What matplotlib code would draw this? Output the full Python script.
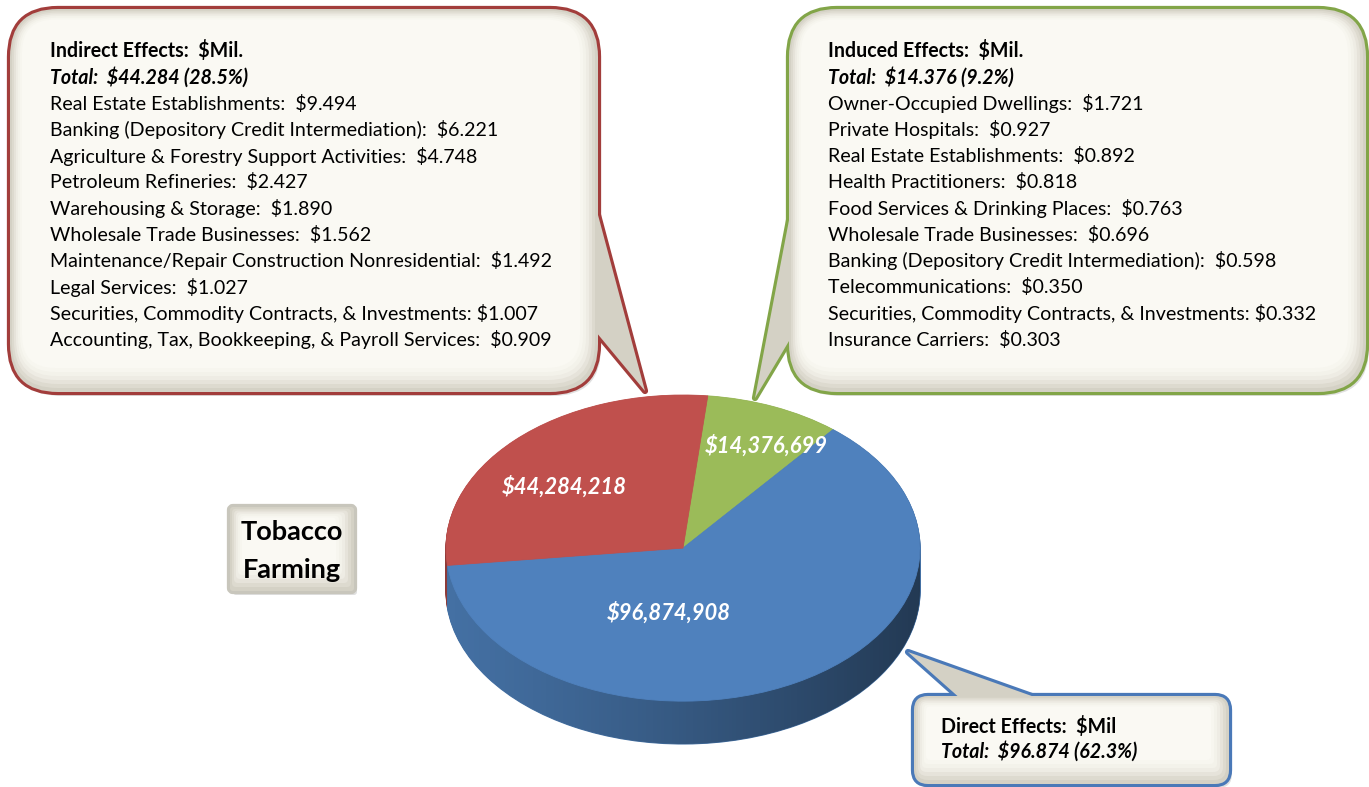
import numpy as np
import matplotlib.pyplot as plt
from matplotlib.patches import FancyBboxPatch, Polygon
from matplotlib.path import Path

plt.rcParams['font.family'] = ['Lato', 'DejaVu Sans']

# ---------------- datos ----------------
slice_names = ["Induced", "Direct", "Indirect"]
slice_values = [14376699, 96874908, 44284218]
slice_colors = ['#9bbb59', '#4f81bd', '#c0504d']
side_colors = ['#6f8a3c', '#4470a3', '#8e3a38']

indirect_items = ["Real Estate Establishments:", "Banking (Depository Credit Intermediation):",
                  "Agriculture & Forestry Support Activities:", "Petroleum Refineries:",
                  "Warehousing & Storage:", "Wholesale Trade Businesses:",
                  "Maintenance/Repair Construction Nonresidential:", "Legal Services:",
                  "Securities, Commodity Contracts, & Investments:",
                  "Accounting, Tax, Bookkeeping, & Payroll Services:"]
indirect_vals = [9.494, 6.221, 4.748, 2.427, 1.890, 1.562, 1.492, 1.027, 1.007, 0.909]

induced_items = ["Owner-Occupied Dwellings:", "Private Hospitals:", "Real Estate Establishments:",
                 "Health Practitioners:", "Food Services & Drinking Places:",
                 "Wholesale Trade Businesses:", "Banking (Depository Credit Intermediation):",
                 "Telecommunications:", "Securities, Commodity Contracts, & Investments:",
                 "Insurance Carriers:"]
induced_vals = [1.721, 0.927, 0.892, 0.818, 0.763, 0.696, 0.598, 0.350, 0.332, 0.303]

W, H = 1369, 787
total = sum(slice_values)

fig = plt.figure(figsize=(W / 100, H / 100), dpi=100)
bg = fig.add_axes([0, 0, 1, 1])
bg.set_xlim(0, W)
bg.set_ylim(H, 0)
bg.axis('off')


def callout(x, y, w, h, tail, edge, r=40):
    # sombra
    bg.add_patch(FancyBboxPatch((x + 3, y + 4), w, h, boxstyle=f"round,pad=0,rounding_size={r}",
                                fc='#000000', ec='none', alpha=0.12, zorder=1))
    # borde (la mitad interior queda tapada por el relleno)
    shapes = [FancyBboxPatch((x, y), w, h, boxstyle=f"round,pad=0,rounding_size={r}")]
    if tail is not None:
        shapes.append(Polygon(tail, closed=True))
    for s in shapes:
        s.set(fc=edge, ec=edge, lw=4.5, zorder=2, joinstyle='round')
        bg.add_patch(s)
    shapes = [FancyBboxPatch((x, y), w, h, boxstyle=f"round,pad=0,rounding_size={r}")]
    if tail is not None:
        shapes.append(Polygon(tail, closed=True))
    for s in shapes:
        s.set(fc='#d4d1c5', ec='none', zorder=3)
        bg.add_patch(s)
    # degradado interior
    tones = ['#dddacf', '#e6e3da', '#eeece4', '#f3f2ea', '#f7f6ef', '#faf9f3']
    for i, c in enumerate(tones):
        k = 2.5 * (i + 1)
        bg.add_patch(FancyBboxPatch((x + k * 0.8, y + k * 0.7), w - 2 * k, h - 2.3 * k,
                                    boxstyle=f"round,pad=0,rounding_size={max(r - k, 4)}",
                                    fc=c, ec='none', zorder=4))


def mil(v):
    # el original trunca a miles
    return f"${(v // 1000) / 1000:.3f}"


# cajas
callout(10, 9, 588, 383, [(598, 215), (645, 391), (596, 332)], '#a23d3b', r=48)
callout(789, 9, 577, 383, [(790, 215), (755, 398), (792, 336)], '#82a548', r=48)
callout(914, 696, 315, 88, [(962, 700), (908, 652), (1043, 700)], '#4a79b8', r=14)
callout(230, 507, 124, 84, None, '#c8c6bc', r=3)

lh = 26.25
fs = 14.1


def block(x, y0, head, tot_val, items, vals):
    bg.text(x, y0, head, fontsize=fs, fontweight='bold', va='center', zorder=6)
    pct = tot_val / total * 100
    bg.text(x, y0 + lh, f"Total:  {mil(tot_val)} ({pct:.1f}%)", fontsize=fs,
            fontweight='bold', fontstyle='italic', va='center', zorder=6)
    for i, (n, v) in enumerate(zip(items, vals)):
        sep = " " if n.startswith("Securities") else "  "
        bg.text(x, y0 + lh * (i + 2), f"{n}{sep}${v:.3f}", fontsize=fs, va='center', zorder=6)


block(50, 51, "Indirect Effects:  $Mil.", slice_values[2], indirect_items, indirect_vals)
block(828, 51, "Induced Effects:  $Mil.", slice_values[0], induced_items, induced_vals)

bg.text(941, 727, "Direct Effects:  $Mil", fontsize=fs, fontweight='bold', va='center', zorder=6)
bg.text(941, 751, f"Total:  {mil(slice_values[1])} ({slice_values[1] / total * 100:.1f}%)",
        fontsize=fs, fontweight='bold', fontstyle='italic', va='center', zorder=6)

bg.text(292, 532, "Tobacco", fontsize=19.5, fontweight='bold', ha='center', va='center', zorder=6)
bg.text(292, 570, "Farming", fontsize=19.5, fontweight='bold', ha='center', va='center', zorder=6)

# ---------------- pastel 3D ----------------
depth = 0.28
px_l, px_r, px_t, px_b = 446, 920, 395, 744
pie_ax = fig.add_axes([px_l / W, 1 - px_b / H, (px_r - px_l) / W, (px_b - px_t) / H])

for k in np.linspace(depth, 0.005, 40):
    wedges, _ = pie_ax.pie(slice_values, colors=side_colors, startangle=84, counterclock=False,
                           center=(0, -k), wedgeprops=dict(linewidth=0.8))
    for wdg in wedges:
        wdg.set_edgecolor(wdg.get_facecolor())
        wdg.set_zorder(1)

# sombreado horizontal del lateral
t1 = np.linspace(np.pi, 2 * np.pi, 100)
t2 = np.linspace(0, np.pi, 100)
verts = np.vstack([np.column_stack([np.cos(t1), -depth + np.sin(t1)]),
                   np.column_stack([np.cos(t2), np.sin(t2)])])
clip = Path(verts, closed=True)
grad = np.zeros((2, 256, 4))
grad[..., 3] = np.linspace(0.0, 0.55, 256) ** 1.2
im = pie_ax.imshow(grad, extent=(-1, 1, -1 - depth, 1), aspect='auto', zorder=2, origin='lower')
im.set_clip_path(clip, transform=pie_ax.transData)

wedges, _ = pie_ax.pie(slice_values, colors=slice_colors, startangle=84, counterclock=False,
                       wedgeprops=dict(linewidth=0.6))
for wdg in wedges:
    wdg.set_edgecolor(wdg.get_facecolor())
    wdg.set_zorder(3)

pie_ax.set_aspect('auto')
pie_ax.set_xlim(-1, 1)
pie_ax.set_ylim(-1 - depth, 1)
pie_ax.axis('off')

label_pos = [(0.35, 0.67), (-0.06, -0.42), (-0.50, 0.40)]
for v, (lx, ly) in zip(slice_values, label_pos):
    pie_ax.text(lx, ly, f"${v:,}", color='white', fontsize=15.8, fontweight='bold',
                fontstyle='italic', ha='center', va='center', zorder=5)

fig.savefig('out.png', dpi=100)
